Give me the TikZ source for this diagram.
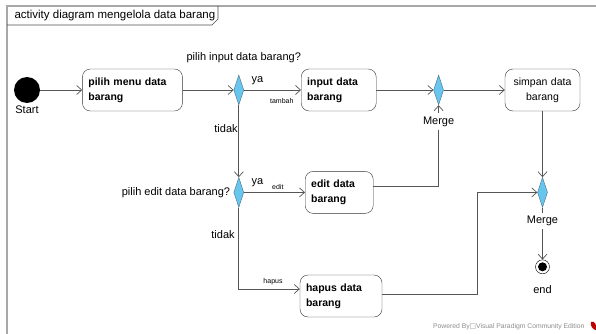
\documentclass[tikz,border=0pt]{standalone}
\usepackage{fontspec}
\setmainfont{Liberation Sans}
\newfontfamily\symfont{DejaVu Sans}
\usepackage{tikz}
\usetikzlibrary{arrows.meta, positioning, shapes.geometric}

\definecolor{vpblue}{RGB}{104,198,238}
\definecolor{vpedge}{RGB}{70,110,130}
\definecolor{framegray}{RGB}{168,168,168}
\definecolor{linegray}{RGB}{85,85,85}

\begin{document}
\begin{tikzpicture}[
  x=1pt, y=-1pt,
  every node/.style={font=\fontsize{11}{13}\selectfont},
  aksi/.style={draw=black!80, rounded corners=8pt, minimum height=42pt, inner sep=6pt,
    align=left, font=\fontsize{10.5}{15}\selectfont\bfseries},
  keputusan/.style={diamond, draw=vpedge, fill=vpblue, minimum width=10pt,
    minimum height=30pt, inner sep=0pt},
  kecil/.style={font=\fontsize{7}{8}\selectfont},
  alur/.style={draw=linegray, line width=0.7pt, -{Straight Barb[length=5pt,width=9pt]}},
  garis/.style={draw=linegray, line width=0.7pt}
]
\useasboundingbox (0,0) rectangle (596,334);

% frame and title tab
\draw [framegray, line width=1.3pt] (596,6) -- (7,6) -- (7,334);
\draw [black!70, line width=0.6pt] (7,25) -- (212,25) -- (218,19) -- (218,6);
\node (judul) [anchor=west, font=\fontsize{11.5}{13}\selectfont] at (11,15.5)
  {activity diagram mengelola data barang};

% Top row
\node (start) [circle, fill=black, minimum size=26pt, inner sep=0pt] at (27,90) {};
\node (pilihmenu) [aksi, text width=88pt, right=42pt of start] {pilih menu data\\barang};
\node (cekinput) [keputusan, right=51pt of pilihmenu] {};
\node (input) [aksi, text width=63pt, right=57pt of cekinput] {input data\\barang};
\node (merge1) [keputusan, right=57pt of input] {};
\node (simpan) [aksi, font=\fontsize{10.5}{15}\selectfont, align=center, text width=63pt,
  right=61pt of merge1] {simpan data\\barang};

% Middle row
\node (cekedit) [keputusan, below=72pt of cekinput] {};
\node (edit) [aksi, text width=56pt, right=61pt of cekedit] {edit data\\barang};
\node (merge2) [keputusan, below=66pt of simpan] {};
\node (akhir) [circle, draw, minimum size=14pt, inner sep=0pt, below=52pt of merge2] {};
\fill (akhir.center) circle (4.5);

% Bottom row
\node (hapus) [aksi, text width=70pt] at (341,296) {hapus data\\barang};

\draw [alur] (start) -- (pilihmenu);
\draw [alur] (pilihmenu) -- (cekinput);
\draw [alur] (cekinput) -- (input);
\draw [alur] (input) -- (merge1);
\draw [alur] (merge1) -- (simpan);
\draw [alur] (simpan) -- (merge2);
\draw [alur] (merge2) -- (akhir);
\draw [alur] (cekinput) -- (cekedit);
\draw [alur] (cekedit) -- (edit);
\draw [alur] ([yshift=6pt]edit.east) -| (merge1.south);
\draw [alur] (cekedit) |- ([yshift=7pt]hapus.west);
\draw [alur] ([yshift=2pt]hapus.east) -- ++(95,0) |- (merge2.west);

% labels
\node (startlbl) [below=-1pt of start] {Start};
\node (tanya1) [above=8pt of cekinput, xshift=5pt] {pilih input data barang?};
\node (tanya2) [left=0pt of cekedit] {pilih edit data barang?};
\node (ya1) [above right=2pt and 4pt of cekinput.east] {ya};
\node (ya2) [above right=2pt and 4pt of cekedit.east] {ya};
\node (tambah) [kecil, below left=5pt and 4pt of input.west] {tambah};
\node (editlbl) [kecil, above left=-1pt and 18pt of edit.west] {edit};
\node (hapuslbl) [kecil, above left=7.5pt and 13.7pt of hapus.west] {hapus};
\node (tidak1) at (226,129) {tidak};
\node (tidak2) at (223,235) {tidak};
\node (mergelbl1) [fill=white, below=8pt of merge1] {Merge};
\node (mergelbl2) [fill=white, below=5pt of merge2] {Merge};
\node (akhirlbl) [below=8pt of akhir] {end};

% footer
\node (footer) [kecil, font=\fontsize{6.8}{8}\selectfont, text=black!45, anchor=east] at (588,327)
  {Powered By{\symfont □}Visual Paradigm Community Edition};
\fill [red!75!black] (591,322) .. controls (595,320) and (597,326) .. (596,330)
  .. controls (593,330) and (590,326) .. (591,322);
\end{tikzpicture}
\end{document}
